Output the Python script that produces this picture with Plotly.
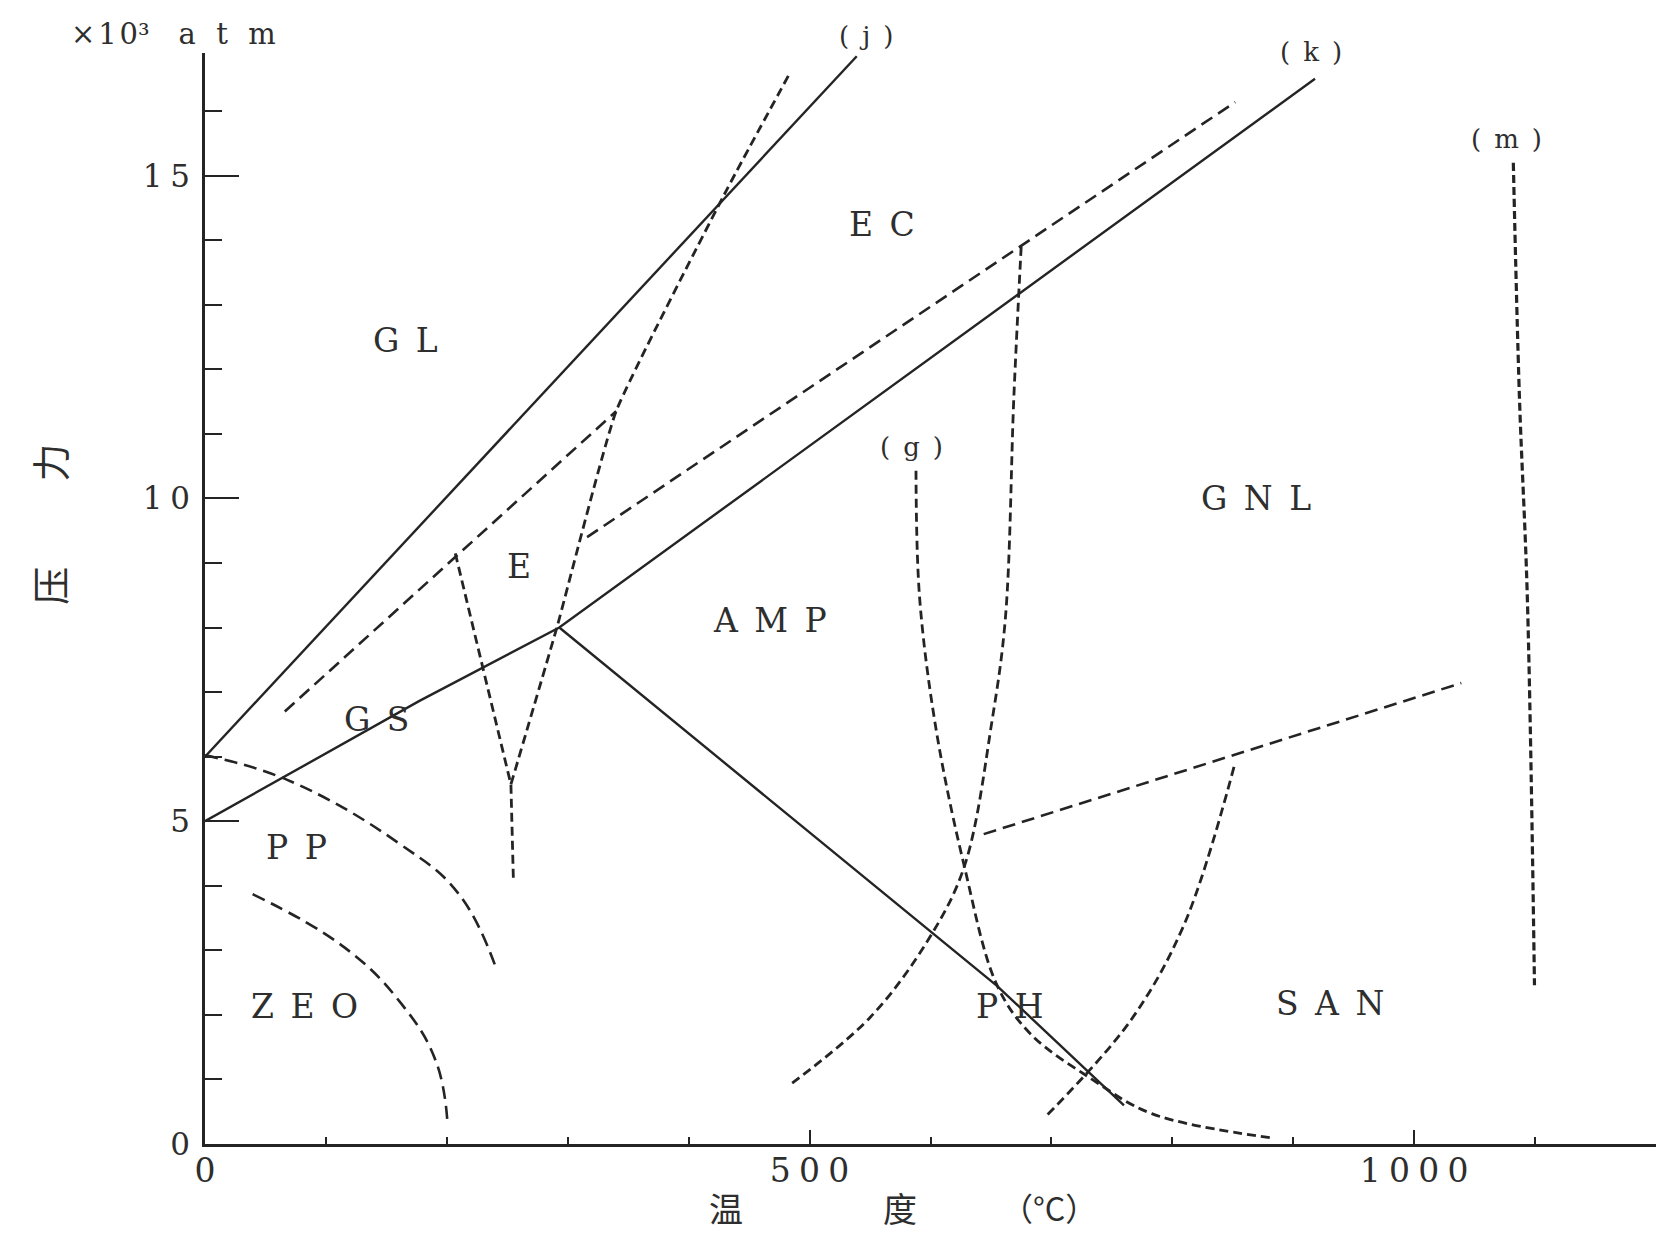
import plotly.graph_objects as go

# ---------------- data (temperature °C, pressure ×10^3 atm) ----------------
temp_tick_vals = [0, 500, 1000]
temp_tick_text = ["0", "500", "1000"]
pres_tick_vals = [0, 5, 10, 15]
pres_tick_text = ["0", "5", "10", "15"]

# solid boundaries
j_T = [0, 539]
j_P = [6.0, 16.85]
k_T = [0, 177, 293, 918]
k_P = [5.0, 6.86, 8.0, 16.5]
amp_T = [293, 655, 760]
amp_P = [8.0, 2.45, 0.6]

# dashed boundaries
gl_T = [66, 340]
gl_P = [6.7, 11.35]
vleft_T = [207, 253, 255]
vleft_P = [9.15, 5.57, 4.12]
steep_T = [253, 291, 340, 432, 484]
steep_P = [5.57, 8.0, 11.35, 14.8, 16.6]
ec_T = [316, 852]
ec_P = [9.4, 16.14]
g_T = [588, 591, 605, 628, 655, 683, 733, 783, 884]
g_P = [10.43, 8.46, 6.38, 4.3, 2.46, 1.7, 1.01, 0.47, 0.09]
b_T = [675, 669, 662, 651, 628, 598, 550, 484]
b_P = [13.9, 11.6, 8.16, 6.57, 4.3, 3.16, 1.96, 0.92]
gnl_T = [644, 1039]
gnl_P = [4.8, 7.14]
san_T = [851, 810, 765, 696]
san_P = [5.84, 3.41, 1.9, 0.44]
m_T = [1082, 1087, 1093.6, 1099.5]
m_P = [15.2, 11.6, 8.46, 2.46]
pp_T = [0, 68, 162.5, 210, 241]
pp_P = [6.02, 5.64, 4.63, 3.87, 2.71]
zeo_T = [39.4, 115, 162.5, 191, 200.5]
zeo_P = [3.87, 3.05, 2.17, 1.28, 0.34]

# facies labels
facies_text = ["GL", "EC", "E", "AMP", "GS", "PP", "ZEO", "PH", "SAN", "GNL"]
facies_T = [166, 560, 260, 467, 142, 76, 82, 665, 930, 869]
facies_P = [12.45, 14.25, 8.95, 8.11, 6.57, 4.6, 2.13, 2.13, 2.17, 10.0]

curve_text = ["(j)", "(k)", "(m)", "(g)"]
curve_T = [547, 915, 1076, 584]
curve_P = [17.16, 16.91, 15.57, 10.8]

X_MAX = 1200
Y_MAX = 16.9

INK = "#242424"
TXT = "#2e2e2e"
SERIF = "DejaVu Serif"
CJK = "Noto Sans CJK SC"

fig = go.Figure()


def add_line(T, P, dash=None, spline=False, width=2.5, smoothing=1.0):
    fig.add_trace(go.Scatter(
        x=T, y=P, mode="lines", showlegend=False, hoverinfo="skip",
        line=dict(color=INK, width=width, dash=dash,
                  shape="spline" if spline else "linear", smoothing=smoothing),
        cliponaxis=False,
    ))


for T, P in [(j_T, j_P), (k_T, k_P), (amp_T, amp_P)]:
    add_line(T, P, width=2.4)

DASH = "13px,7px"
DASH2 = "9px,5px"
add_line(gl_T, gl_P, dash=DASH, width=2.6)
add_line(vleft_T, vleft_P, dash=DASH2, width=2.8)
add_line(steep_T, steep_P, dash=DASH2, spline=True, width=2.8, smoothing=0.4)
add_line(ec_T, ec_P, dash=DASH, width=2.6)
add_line(g_T, g_P, dash=DASH2, spline=True, width=2.8)
add_line(b_T, b_P, dash=DASH2, spline=True, width=2.8)
add_line(gnl_T, gnl_P, dash=DASH, width=2.6)
add_line(san_T, san_P, dash=DASH2, spline=True, width=2.8)
add_line(m_T, m_P, dash="8px,4px", spline=True, width=3.2)
add_line(pp_T, pp_P, dash=DASH, spline=True, width=2.6, smoothing=1.2)
add_line(zeo_T, zeo_P, dash=DASH, spline=True, width=2.6, smoothing=1.2)

annotations = []
for t, x, y in zip(facies_text, facies_T, facies_P):
    annotations.append(dict(
        x=x, y=y, xref="x", yref="y", showarrow=False,
        xanchor="center", yanchor="middle",
        text="\u2002".join(list(t)),
        font=dict(family=SERIF, size=33, color=TXT),
    ))
for t, x, y in zip(curve_text, curve_T, curve_P):
    annotations.append(dict(
        x=x, y=y / Y_MAX, xref="x", yref="paper", showarrow=False,
        xanchor="center", yanchor="middle",
        text="\u2002".join(list(t)),
        font=dict(family=SERIF, size=26, color=TXT),
    ))

# axis titles and unit
annotations += [
    dict(x=-0.0937, y=1.0175, xref="paper", yref="paper", xanchor="left", yanchor="middle",
         showarrow=False, text="×\u200a1\u200a0³\u2003a\u2002\u2009t\u2002\u2009m",
         font=dict(family=SERIF, size=29, color=TXT)),
    dict(x=431, y=-0.058, xref="x", yref="paper", xanchor="center", yanchor="middle",
         showarrow=False, text="温", font=dict(family=CJK, size=34, color=TXT)),
    dict(x=575, y=-0.058, xref="x", yref="paper", xanchor="center", yanchor="middle",
         showarrow=False, text="度", font=dict(family=CJK, size=34, color=TXT)),
    dict(x=698, y=-0.058, xref="x", yref="paper", xanchor="center", yanchor="middle",
         showarrow=False, text="（°C）", font=dict(family=CJK, size=32, color=TXT)),
    dict(x=-0.108, y=0.625, xref="paper", yref="paper", xanchor="center", yanchor="middle",
         showarrow=False, textangle=-90, text="力", font=dict(family=CJK, size=38, color=TXT)),
    dict(x=-0.108, y=0.512, xref="paper", yref="paper", xanchor="center", yanchor="middle",
         showarrow=False, textangle=-90, text="压", font=dict(family=CJK, size=38, color=TXT)),
]

fig.update_layout(
    width=1648, height=1224,
    margin=dict(l=197, r=0, t=45, b=88),
    paper_bgcolor="white", plot_bgcolor="white",
    annotations=annotations,
    showlegend=False,
)
fig.update_xaxes(
    range=[0, X_MAX], showgrid=False, zeroline=False,
    showline=True, linecolor=INK, linewidth=2.5,
    ticks="inside", ticklen=14, tickwidth=2, tickcolor=INK,
    tickvals=temp_tick_vals, ticktext=["\u2005".join(list(s)) for s in temp_tick_text],
    tickfont=dict(family=SERIF, size=33, color=TXT), ticklabelstandoff=-4,
    minor=dict(dtick=100, ticks="inside", ticklen=7, tickwidth=2, tickcolor=INK),
)
fig.update_yaxes(
    range=[0, Y_MAX], showgrid=False, zeroline=False,
    showline=True, linecolor=INK, linewidth=2.5,
    ticks="inside", ticklen=34, tickwidth=1.6, tickcolor=INK,
    tickvals=pres_tick_vals, ticktext=["\u2005".join(list(s)) for s in pres_tick_text],
    tickfont=dict(family=SERIF, size=31, color=TXT), ticklabelstandoff=6,
    minor=dict(dtick=1, ticks="inside", ticklen=17, tickwidth=1.6, tickcolor=INK),
)

fig.write_html("out.html")
